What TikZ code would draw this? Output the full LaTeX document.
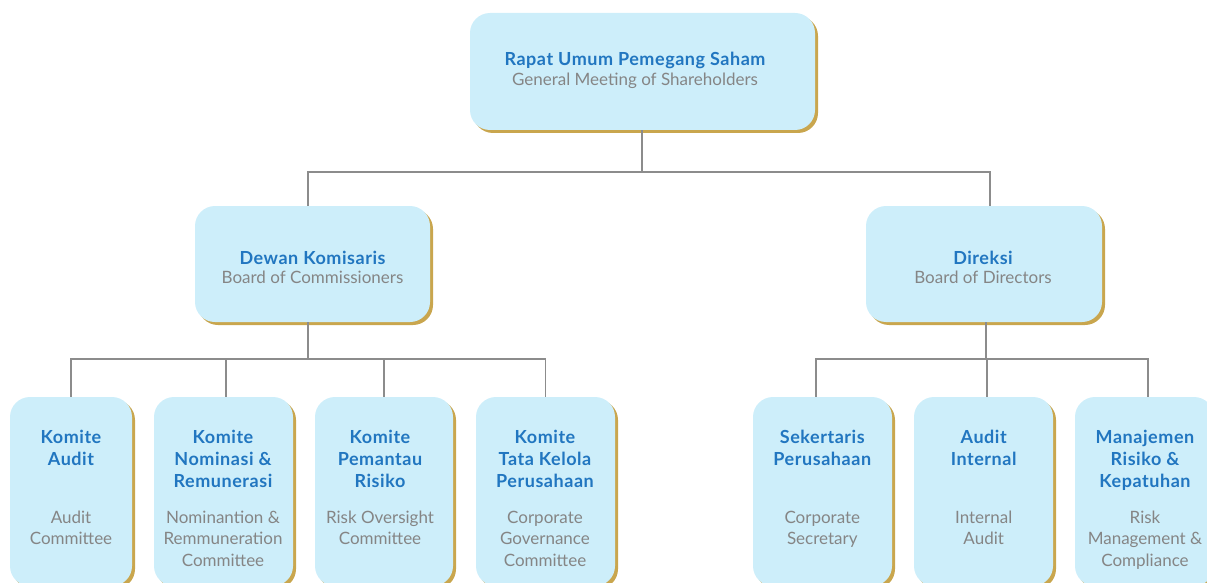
\documentclass[tikz,border=0pt]{standalone}
\usepackage{fontspec}
\setmainfont{Lato}
\newfontfamily\ttlfont{Lato}[LetterSpace=3]
\usetikzlibrary{shadows}
\definecolor{boxfill}{HTML}{CDEEFA}
\definecolor{ttlblue}{HTML}{2176C0}
\definecolor{subgray}{HTML}{858585}
\definecolor{goldline}{HTML}{C9A64E}
\definecolor{conngray}{HTML}{8C8C8C}
\tikzset{
  orgbox/.style={draw=none, fill=boxfill, rounded corners=20pt, inner sep=0pt,
    drop shadow={shadow xshift=3pt, shadow yshift=-3pt, fill=goldline, opacity=1}},
  ttltext/.style={text=ttlblue, font=\ttlfont\fontsize{18}{22}\selectfont\bfseries, align=center, inner sep=0pt, anchor=base},
  subtext/.style={text=subgray, font=\fontsize{17}{21.5}\selectfont, align=center, inner sep=0pt, anchor=base},
  connector/.style={draw=conngray, line width=1.6pt}
}
\begin{document}
\begin{tikzpicture}[x=1pt,y=-1pt]
\useasboundingbox (0,0) rectangle (1207,583);
% boxes
\node[orgbox, minimum width=345pt, minimum height=117pt] (rups) at (642.5,71.5) {};
\node[orgbox, minimum width=235pt, minimum height=116pt] (dk) at (312.5,264) {};
\node[orgbox, minimum width=236pt, minimum height=116pt] (dir) at (984,264) {};
\node[orgbox, minimum width=122pt, minimum height=189pt] (b1) at (71,491.5) {};
\node[orgbox, minimum width=139pt, minimum height=189pt] (b2) at (223.5,491.5) {};
\node[orgbox, minimum width=138pt, minimum height=189pt] (b3) at (384,491.5) {};
\node[orgbox, minimum width=139pt, minimum height=189pt] (b4) at (545.5,491.5) {};
\node[orgbox, minimum width=139pt, minimum height=189pt] (b5) at (822.5,491.5) {};
\node[orgbox, minimum width=139pt, minimum height=189pt] (b6) at (983.5,491.5) {};
\node[orgbox, minimum width=139pt, minimum height=189pt] (b7) at (1144.5,491.5) {};
% connectors
\coordinate (j0) at (642,172);
\coordinate (jdk) at (308,359);
\coordinate (jdir) at (986,359);
\draw[connector] (rups.south -| j0) -- (j0);
\draw[connector] (j0) -| ([xshift=-4.5pt]dk.north);
\draw[connector] (j0) -| ([xshift=6pt]dir.north);
\draw[connector] ([xshift=-4.5pt]dk.south) -- (jdk);
\draw[connector] (jdk) -| (b1.north);
\draw[connector] (jdk) -| ([xshift=2.5pt]b2.north);
\draw[connector] (jdk) -| (b3.north);
\draw[connector] (jdk) -| (b4.north);
\draw[connector] ([xshift=2pt]dir.south) -- (jdir);
\draw[connector] (jdir) -| ([xshift=-6.5pt]b5.north);
\draw[connector] (jdir) -| ([xshift=3.5pt]b6.north);
\draw[connector] (jdir) -| ([xshift=3.5pt]b7.north);
% texts (anchor = baseline of the last line)
\node[ttltext] (rupsT) at (635,66) {Rapat Umum Pemegang Saham};
\node[subtext] (rupsS) at (635,86) {General Meeting of Shareholders};
\node[ttltext] (dkT) at (312.5,264.3) {Dewan Komisaris};
\node[subtext] (dkS) at (312.5,283.3) {Board of Commissioners};
\node[ttltext] (dirT) at (983,264.3) {Direksi};
\node[subtext] (dirS) at (983,283.3) {Board of Directors};
\node[ttltext] (b1T) at (71,465.3) {Komite\\Audit};
\node[subtext] (b1S) at (71,544.8) {Audit\\Committee};
\node[ttltext] (b2T) at (223,487.3) {Komite\\Nominasi \&\\Remunerasi};
\node[subtext] (b2S) at (223,566.3) {Nominantion \&\\Remmuneration\\Committee};
\node[ttltext] (b3T) at (380,487.3) {Komite\\Pemantau\\Risiko};
\node[subtext] (b3S) at (380,544.8) {Risk Oversight\\Committee};
\node[ttltext] (b4T) at (545,487.3) {Komite\\Tata Kelola\\Perusahaan};
\node[subtext] (b4S) at (545,566.3) {Corporate\\Governance\\Committee};
\node[ttltext] (b5T) at (822.3,465.3) {Sekertaris\\Perusahaan};
\node[subtext] (b5S) at (822.3,544.8) {Corporate\\Secretary};
\node[ttltext] (b6T) at (983.7,465.3) {Audit\\Internal};
\node[subtext] (b6S) at (983.7,544.8) {Internal\\Audit};
\node[ttltext] (b7T) at (1145,487.3) {Manajemen\\Risiko \&\\Kepatuhan};
\node[subtext] (b7S) at (1145,566.3) {Risk\\Management \&\\Compliance};
\end{tikzpicture}
\end{document}
